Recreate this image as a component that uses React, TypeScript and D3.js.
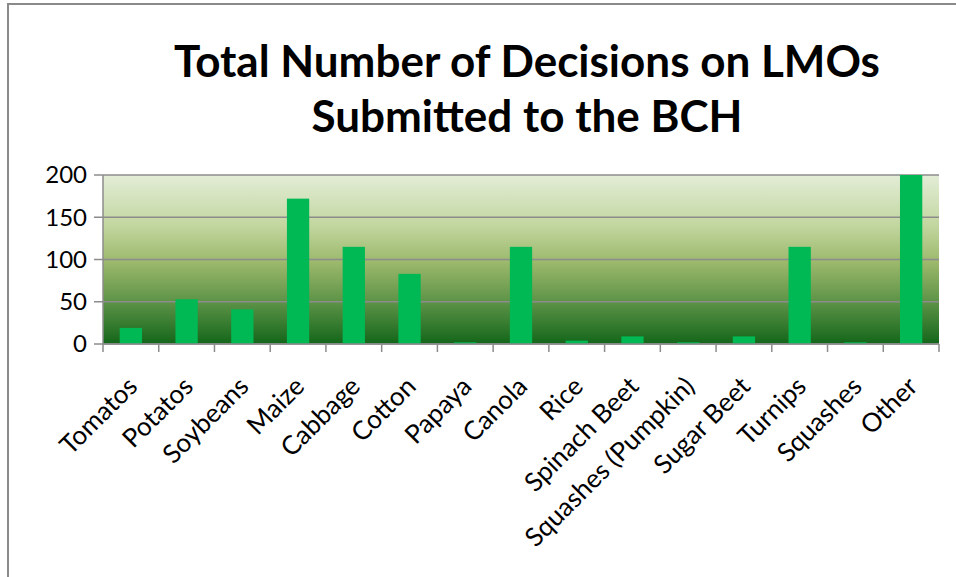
import React from 'react';
import * as d3 from 'd3';

const categories = [
  'Tomatos', 'Potatos', 'Soybeans', 'Maize', 'Cabbage', 'Cotton', 'Papaya', 'Canola',
  'Rice', 'Spinach Beet', 'Squashes (Pumpkin)', 'Sugar Beet', 'Turnips', 'Squashes', 'Other',
];
const decisions = [19, 53, 41, 172, 115, 83, 2, 115, 4, 9, 2, 9, 115, 2, 200];
const yTicks = [0, 50, 100, 150, 200];
const titleLines = ['Total Number of Decisions on LMOs', 'Submitted to the BCH'];

const W = 956;
const H = 577;
const plot = { left: 103, right: 939, top: 175, bottom: 344 };
const font = 'Lato, "Open Sans", sans-serif';

const App = () => {
  const x = d3.scaleBand<string>()
    .domain(categories)
    .range([plot.left, plot.right])
    .paddingInner(0.6)
    .paddingOuter(0.3);
  const y = d3.scaleLinear().domain([0, 200]).range([plot.bottom, plot.top]);
  const step = x.step();
  const bounds = d3.range(categories.length + 1).map(i => plot.left + i * step);

  return (
    <div style={{ position: 'absolute', left: 0, top: 0 }}>
      <svg width={W} height={H} style={{ display: 'block', background: '#fff' }}>
        <defs>
          <linearGradient id="plotBg" x1="0" y1="0" x2="0" y2="1">
            <stop offset="0%" stopColor="#e3edd7" />
            <stop offset="30%" stopColor="#c2d69f" />
            <stop offset="52%" stopColor="#9bb86b" />
            <stop offset="75%" stopColor="#5d9347" />
            <stop offset="100%" stopColor="#13661a" />
          </linearGradient>
        </defs>

        {/* outer frame */}
        <line x1={8} y1={3} x2={8} y2={H} stroke="#8a8a8a" strokeWidth={2} />
        <line x1={7} y1={4} x2={W} y2={4} stroke="#8a8a8a" strokeWidth={2} />

        {/* title */}
        {titleLines.map((t, i) => (
          <text key={t} x={527} y={77 + i * 55} textAnchor="middle" fontFamily={font}
            fontWeight="bold" fontSize={44} fill="#000">{t}</text>
        ))}

        {/* plot background */}
        <rect x={plot.left} y={plot.top} width={plot.right - plot.left}
          height={plot.bottom - plot.top} fill="url(#plotBg)" />

        {/* gridlines + y ticks */}
        {yTicks.map(t => (
          <g key={t}>
            <line x1={94} x2={plot.right} y1={y(t)} y2={y(t)} stroke="#8c8c8c" strokeWidth={1.5} />
            <text x={87} y={y(t)} dy="0.35em" textAnchor="end" fontFamily={font}
              fontSize={24} fill="#000">{t}</text>
          </g>
        ))}

        {/* bars */}
        {categories.map((c, i) => (
          <rect key={c} x={x(c)} y={y(decisions[i])} width={x.bandwidth()}
            height={y(0) - y(decisions[i])} fill="#00b954" />
        ))}

        {/* axes */}
        <line x1={plot.left} x2={plot.left} y1={plot.top} y2={plot.bottom} stroke="#8c8c8c" strokeWidth={1.5} />
        <line x1={plot.left} x2={plot.right} y1={plot.bottom} y2={plot.bottom} stroke="#8c8c8c" strokeWidth={1.5} />
        {bounds.map((b, i) => (
          <line key={i} x1={b} x2={b} y1={plot.bottom} y2={plot.bottom + 8} stroke="#8c8c8c" strokeWidth={1.5} />
        ))}

        {/* category labels */}
        {categories.map(c => {
          const cx = (x(c) ?? 0) + x.bandwidth() / 2 + 8;
          const cy = 388;
          return (
            <text key={c} x={cx} y={cy} transform={`rotate(-45 ${cx} ${cy})`} textAnchor="end"
              fontFamily={font} fontSize={26} fill="#000">{c}</text>
          );
        })}
      </svg>
    </div>
  );
};

export default App;
